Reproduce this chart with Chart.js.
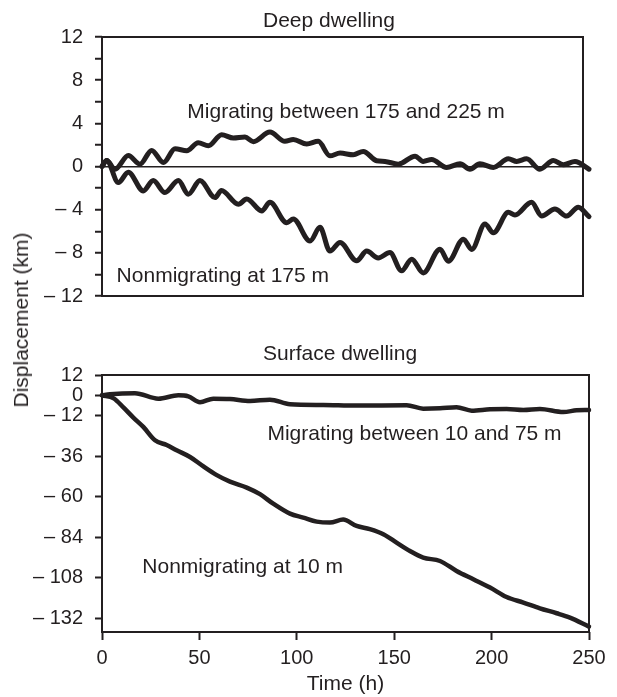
<!DOCTYPE html>
<html>
<head>
<meta charset="UTF-8">
<title>Displacement</title>
<script src="https://cdn.jsdelivr.net/npm/chart.js"></script>
<style>
  body { margin: 0; background: #fff; font-family: 'Liberation Sans', Arial, sans-serif; color: #231f20; }
  #wrap { position: relative; width: 617px; height: 697px; overflow: hidden; }
  canvas { position: absolute; left: 0; }
  #ytitle {
    position: absolute; left: 21px; top: 320px;
    transform: translate(-50%, -50%) rotate(-90deg);
    font-size: 21px; white-space: nowrap;
  }
</style>
</head>
<body>
<div id="wrap">
  <canvas id="deep" width="617" height="312" style="top:0"></canvas>
  <canvas id="surface" width="617" height="362" style="top:335px"></canvas>
  <div id="ytitle">Displacement (km)</div>
</div>
<script>
// values: time (h) and displacement (km)
const deepMigT = [0, 2.4, 6.7, 13.5, 19.5, 25.5, 31.5, 37.5, 43.5, 49.4, 54.6, 61.4, 67.4, 73.4, 77.7, 86.2, 93.9, 98.2, 105.1, 111.0, 117.0, 122.2, 129.0, 134.1, 141.0, 145.3, 152.1, 160.7, 164.9, 169.2, 176.9, 183.8, 188.9, 194.0, 200.9, 208.6, 212.9, 218.0, 224.8, 231.7, 236.8, 242.8, 250];
const deepMigD = [0, 0.56, -0.25, 1.02, 0.22, 1.49, 0.37, 1.64, 1.46, 2.2, 1.92, 2.95, 2.64, 2.73, 2.3, 3.19, 2.33, 2.51, 2.08, 2.33, 0.99, 1.24, 1.09, 1.4, 0.53, 0.47, 0.22, 0.96, 0.47, 0.65, -0.09, 0.25, -0.25, 0.25, -0.09, 0.71, 0.47, 0.71, -0.25, 0.56, 0.16, 0.47, -0.25];

const deepNonT = [0, 2.4, 8.4, 13.5, 21.2, 26.3, 32.3, 39.2, 44.3, 50.3, 58.0, 61.3, 70.0, 74.3, 82.0, 86.2, 94.8, 98.2, 106.8, 111.9, 117.0, 122.2, 130.7, 135.9, 141.8, 147.8, 153.8, 159.0, 164.9, 173.5, 177.8, 185.5, 189.8, 196.6, 200.9, 208.6, 212.0, 220.5, 225.7, 232.5, 238.5, 244.5, 250];
const deepNonD = [0, 0.56, -1.49, -0.53, -2.26, -1.30, -2.42, -1.30, -2.57, -1.30, -2.88, -2.23, -3.50, -3.01, -4.12, -3.32, -5.21, -4.87, -6.91, -5.64, -7.84, -7.04, -8.74, -7.84, -8.47, -7.97, -9.67, -8.59, -9.86, -7.66, -8.78, -6.73, -7.69, -5.33, -6.14, -4.25, -4.5, -3.32, -4.59, -3.94, -4.59, -3.78, -4.65];

const surfMigT = [0, 4.1, 16.9, 28.9, 39.2, 44.3, 50.3, 57.1, 65.7, 76.0, 86.2, 96.5, 113.6, 130.7, 156.4, 164.9, 173.5, 182.0, 189.8, 199.2, 207.7, 216.3, 224.8, 236.8, 243.6, 250];
const surfMigD = [0, 0.6, 1.2, -2.0, 0, -0.6, -4.1, -2.0, -2.2, -3.4, -2.6, -5.3, -5.7, -6.1, -5.9, -7.9, -7.7, -7.1, -9.1, -8.3, -8.1, -8.7, -8.1, -9.9, -8.9, -8.7];

const surfNonT = [0, 6.0, 11.1, 16.1, 21.2, 27.2, 33.2, 38.3, 45.2, 51.7, 58.7, 65.7, 74.3, 81.1, 87.9, 96.5, 103.3, 110.2, 117.0, 123.8, 130.7, 137.5, 144.4, 151.2, 158.1, 164.9, 173.5, 182.0, 190.6, 199.2, 207.7, 216.3, 224.8, 233.4, 240.2, 250];
const surfNonD = [0, -1.8, -7.3, -13.2, -18.7, -26.6, -29.4, -32.5, -36.5, -41.8, -47.1, -51.1, -54.6, -58.5, -64.1, -70.0, -72.3, -74.7, -75.3, -73.5, -77.3, -79.2, -82.2, -87.1, -92.1, -96.0, -98.0, -103.9, -108.8, -113.7, -119.3, -122.6, -126.0, -128.9, -131.5, -136.8];

const timeTicks = [0, 50, 100, 150, 200, 250];
const surfTicks = [12, 0, -12, -36, -60, -84, -108, -132];

const deepNotes = [
  { text: 'Migrating between 175 and 225 m', t: 43.8, d: 5.0 },
  { text: 'Nonmigrating at 175 m', t: 7.5, d: -10.15 }
];
const surfNotes = [
  { text: 'Migrating between 10 and 75 m', t: 84.9, d: -22.8 },
  { text: 'Nonmigrating at 10 m', t: 20.7, d: -101.8 }
];

const INK = '#231f20';
const FONT = "'Liberation Sans', Arial, sans-serif";
Chart.defaults.font.family = FONT;
Chart.defaults.color = INK;

const pts = (t, d) => t.map((v, i) => ({ x: v, y: d[i] }));
const fmt = v => v < 0 ? '\u2013 ' + Math.abs(v) : String(v);

function line(t, d, w) {
  return {
    data: pts(t, d), borderColor: INK, borderWidth: w, pointRadius: 0,
    cubicInterpolationMode: 'monotone', borderCapStyle: 'round', borderJoinStyle: 'round',
    clip: false
  };
}

function panelText(title, tx, ty, notes) {
  return {
    id: 'panelText',
    afterDatasetsDraw(chart) {
      const { ctx, chartArea: a, scales: { x, y } } = chart;
      ctx.save();
      ctx.strokeStyle = INK;
      ctx.lineWidth = 2;
      ctx.strokeRect(a.left, a.top, a.right - a.left, a.bottom - a.top);
      ctx.fillStyle = INK;
      ctx.textAlign = 'left';
      ctx.textBaseline = 'middle';
      ctx.font = '21px ' + FONT;
      ctx.fillText(title, tx, ty);
      notes.forEach(n => ctx.fillText(n.text, x.getPixelForValue(n.t), y.getPixelForValue(n.d)));
      ctx.restore();
    }
  };
}

function fixWidth(w) {
  return s => { s.width = w; s.paddingTop = 0; s.paddingBottom = 0; };
}

// Deep dwelling
new Chart(document.getElementById('deep'), {
  type: 'line',
  data: { datasets: [line(deepMigT, deepMigD, 5), line(deepNonT, deepNonD, 5)] },
  options: {
    responsive: false, animation: false,
    layout: { padding: { top: 37, left: 0, right: 34, bottom: 16 } },
    plugins: { legend: { display: false }, tooltip: { enabled: false } },
    scales: {
      x: { type: 'linear', min: 0, max: 250 * 481 / 487, display: false },
      y: {
        min: -12, max: 12,
        ticks: { stepSize: 2, autoSkip: false, padding: 12, font: { size: 20 },
          callback: v => v % 4 === 0 ? fmt(v) : '' },
        grid: {
          color: c => c.tick && c.tick.value === 0 ? INK : 'rgba(0,0,0,0)',
          lineWidth: 1.5, tickColor: INK, tickWidth: 2, tickLength: 7
        },
        border: { display: false },
        afterFit: fixWidth(102)
      }
    }
  },
  plugins: [panelText('Deep dwelling', 263, 21, deepNotes)]
});

// Surface dwelling
new Chart(document.getElementById('surface'), {
  type: 'line',
  data: { datasets: [line(surfMigT, surfMigD, 4.5), line(surfNonT, surfNonD, 4.5)] },
  options: {
    responsive: false, animation: false,
    layout: { padding: { top: 40, left: 0, right: 28, bottom: 0 } },
    plugins: { legend: { display: false }, tooltip: { enabled: false } },
    scales: {
      x: {
        type: 'linear', min: 0, max: 250,
        afterBuildTicks: s => { s.ticks = timeTicks.map(v => ({ value: v })); },
        ticks: { padding: 6, font: { size: 20 }, maxRotation: 0 },
        grid: { drawOnChartArea: false, tickColor: INK, tickWidth: 2, tickLength: 8 },
        border: { display: false },
        title: { display: true, text: 'Time (h)', font: { size: 21 }, padding: { top: 0, bottom: 0 } },
        afterFit: s => { s.height = 65; s.paddingLeft = 0; s.paddingRight = 0; }
      },
      y: {
        min: -140, max: 12,
        afterBuildTicks: s => { s.ticks = surfTicks.map(v => ({ value: v })); },
        ticks: { autoSkip: false, padding: 12, font: { size: 20 }, callback: v => fmt(v) },
        grid: { drawOnChartArea: false, tickColor: INK, tickWidth: 2, tickLength: 7 },
        border: { display: false },
        afterFit: fixWidth(102)
      }
    }
  },
  plugins: [panelText('Surface dwelling', 263, 19, surfNotes)]
});
</script>
</body>
</html>
